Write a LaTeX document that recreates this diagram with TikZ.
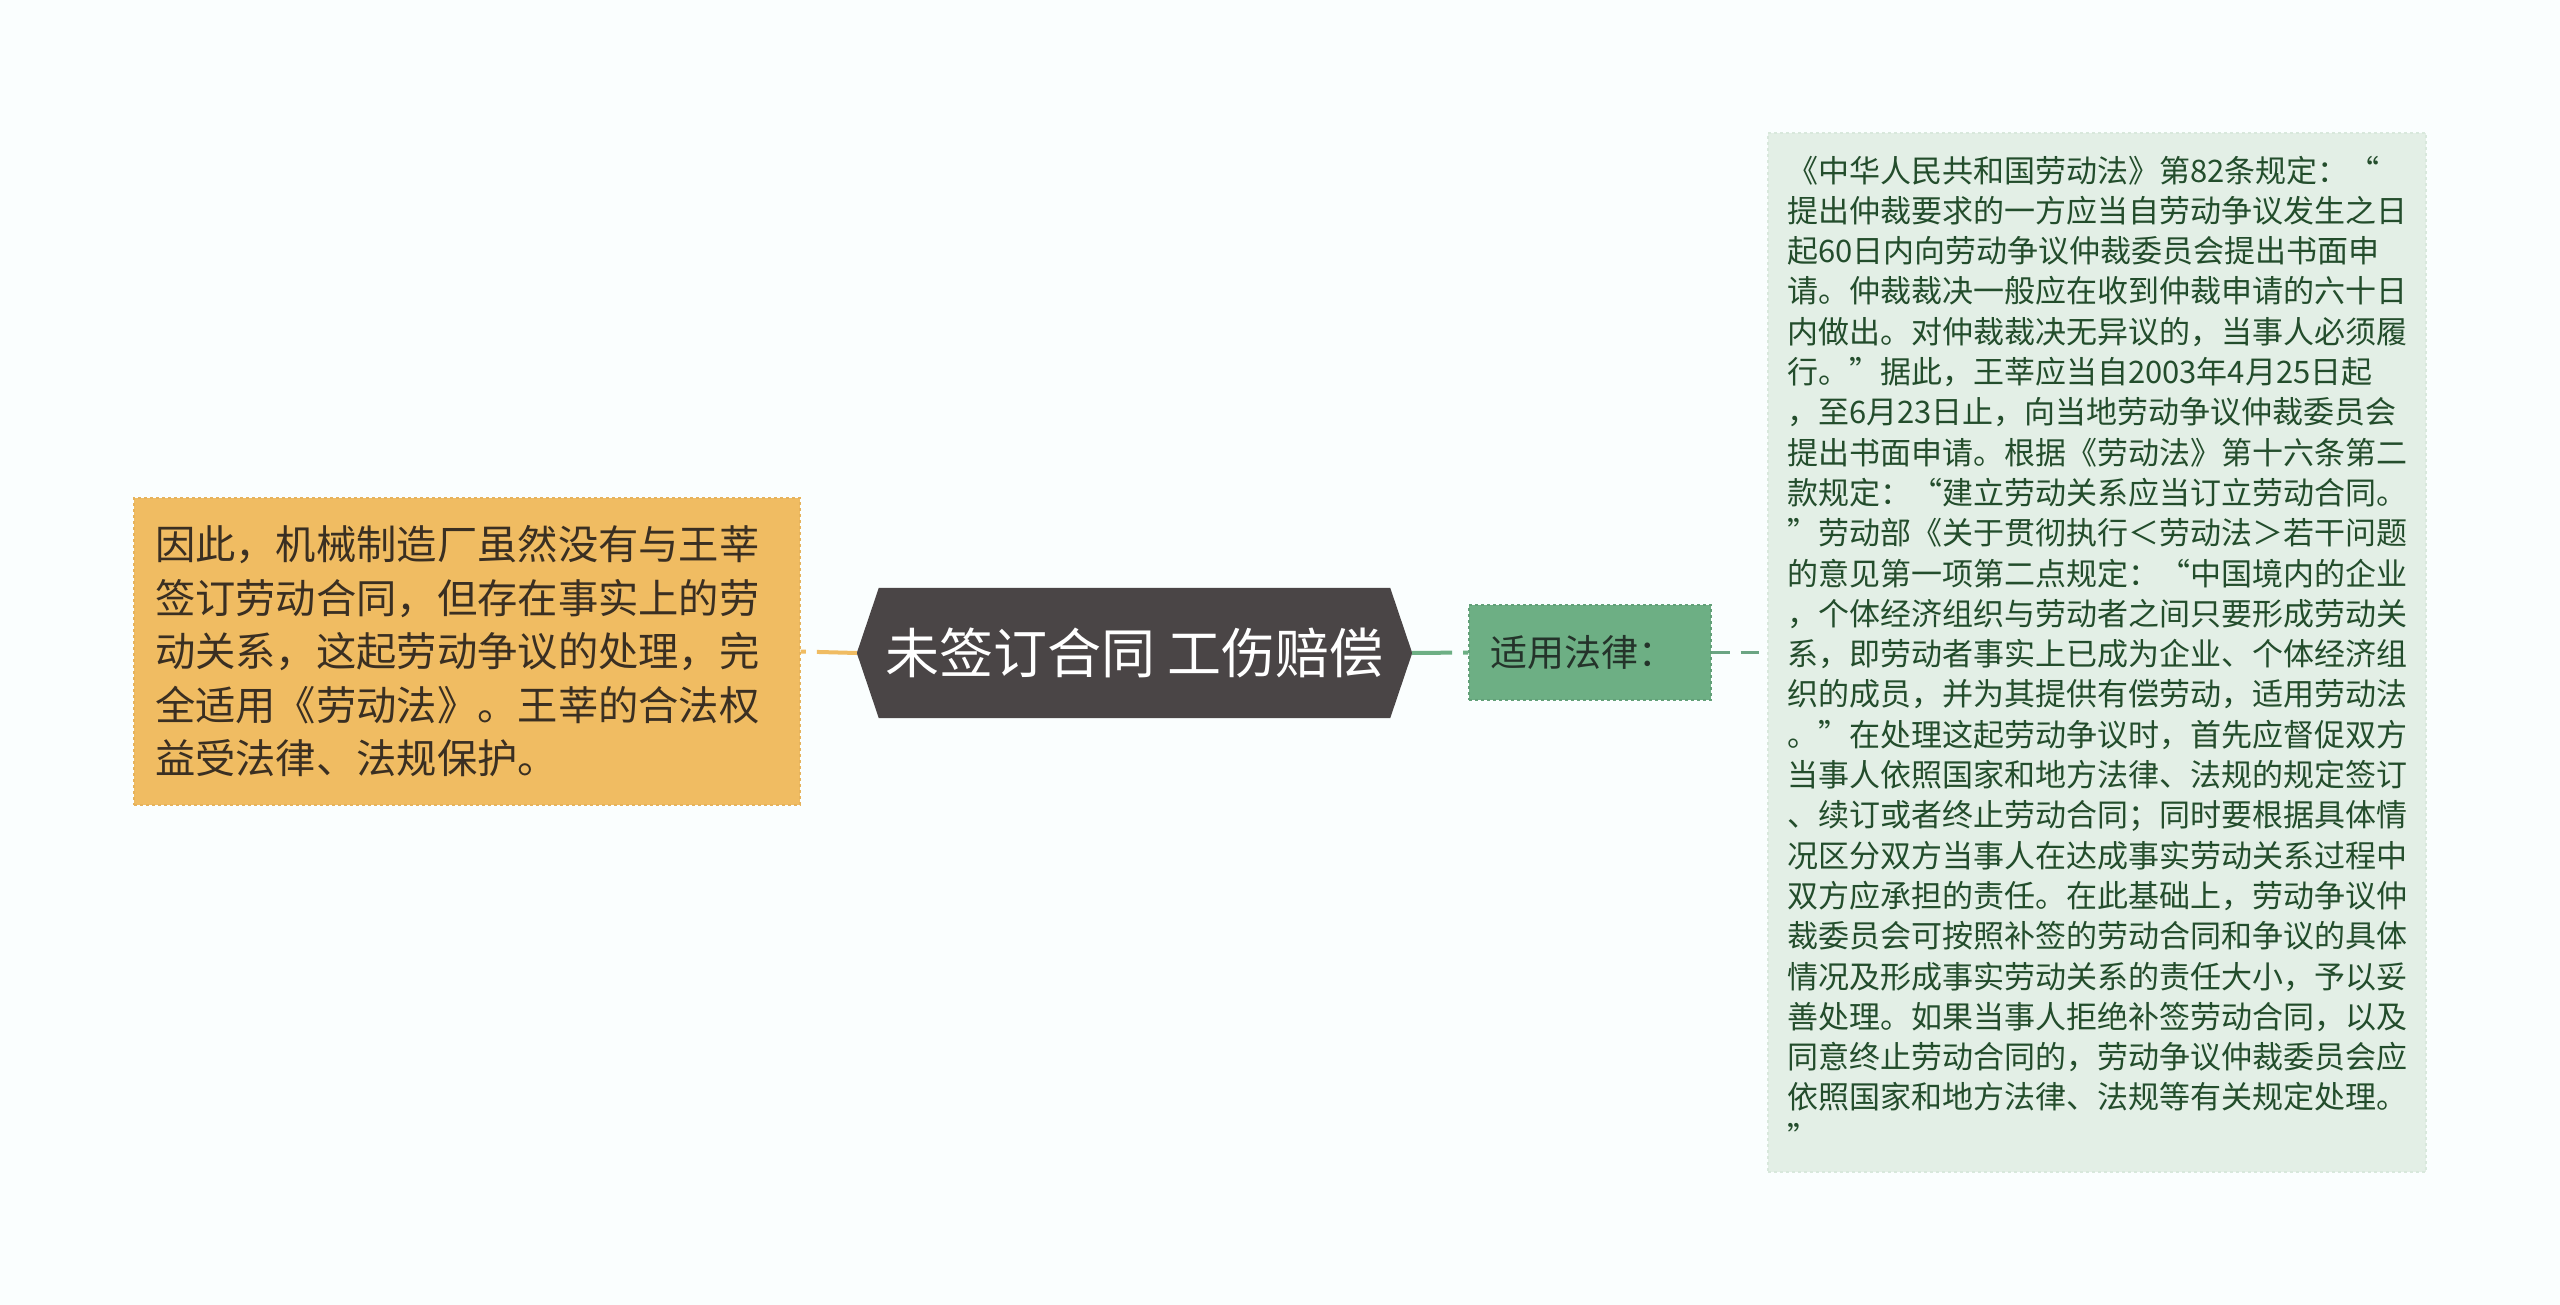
\documentclass[tikz,border=0pt]{standalone}
\usepackage{fontspec}
\setmainfont{Noto Sans CJK SC}
\usetikzlibrary{backgrounds}
\definecolor{bgc}{HTML}{FAFEFE}
\definecolor{hexc}{HTML}{4A4546}
\definecolor{orfill}{HTML}{F0BC62}
\definecolor{orline}{HTML}{E6B35C}
\definecolor{gfill}{HTML}{6DAF84}
\definecolor{gline}{HTML}{62A078}
\definecolor{lgfill}{HTML}{E3EFE6}
\definecolor{lgline}{HTML}{D8E8DC}
\definecolor{ltext}{HTML}{3A2F22}
\definecolor{gtext}{HTML}{24332A}
\definecolor{rtext}{HTML}{234D2C}
\definecolor{conn}{HTML}{6BA583}
\begin{document}
\begin{tikzpicture}[x=1pt,y=-1pt,
  hub/.style={minimum width=555pt,minimum height=130pt,inner sep=0pt,text=white,
    font={\fontsize{54pt}{60pt}\selectfont}},
  lbox/.style={fill=orfill,draw=orline,dashed,line width=1.2pt,minimum width=666pt,minimum height=307pt,
    text width=624pt,inner xsep=21pt,align=left,text=ltext,
    font={\fontsize{40.3pt}{53.5pt}\selectfont}},
  gbox/.style={fill=gfill,draw=gline,dashed,line width=1.2pt,minimum width=242pt,minimum height=95pt,
    text width=200pt,inner xsep=21pt,align=left,text=gtext,
    font={\fontsize{37pt}{40pt}\selectfont}},
  rbox/.style={fill=lgfill,draw=lgline,dashed,line width=1.2pt,minimum width=658pt,minimum height=1039pt,
    text width=620pt,inner xsep=19pt,align=left,text=rtext,
    font={\fontsize{31pt}{40.3pt}\selectfont}},
  orconn/.style={draw=orfill,line width=4pt,dash pattern=on 40pt off 11pt},
  gconn/.style={draw=gfill,line width=4pt,dash pattern=on 40pt off 11pt},
  tconn/.style={draw=conn,line width=3pt,dash pattern=on 18pt off 11pt}
]
\begin{scope}[on background layer]
\fill[bgc] (0,0) rectangle (2560,1305);
\end{scope}
\useasboundingbox (0,0) rectangle (2560,1305);

\node[hub] (c) at (1134.5,653) {未签订合同 工伤赔偿};
\begin{scope}[on background layer]
\fill[hexc] (c.west) -- ([xshift=22pt]c.north west) -- ([xshift=-22pt]c.north east) -- (c.east)
  -- ([xshift=-22pt]c.south east) -- ([xshift=22pt]c.south west) -- cycle;
\end{scope}

\node[lbox] (l) at (467,651.5) {因此，机械制造厂虽然没有与王莘\\签订劳动合同，但存在事实上的劳\\动关系，这起劳动争议的处理，完\\全适用《劳动法》。王莘的合法权\\益受法律、法规保护。};

\node[gbox] (g) at (1590,652.5) {适用法律：};

\node[rbox] (r) at (2097,652.5) {《中华人民共和国劳动法》第82条规定：“\\
提出仲裁要求的一方应当自劳动争议发生之日\\
起60日内向劳动争议仲裁委员会提出书面申\\
请。仲裁裁决一般应在收到仲裁申请的六十日\\
内做出。对仲裁裁决无异议的，当事人必须履\\
行。”据此，王莘应当自2003年4月25日起\\
，至6月23日止，向当地劳动争议仲裁委员会\\
提出书面申请。根据《劳动法》第十六条第二\\
款规定：“建立劳动关系应当订立劳动合同。\\
”劳动部《关于贯彻执行＜劳动法＞若干问题\\
的意见第一项第二点规定：“中国境内的企业\\
，个体经济组织与劳动者之间只要形成劳动关\\
系，即劳动者事实上已成为企业、个体经济组\\
织的成员，并为其提供有偿劳动，适用劳动法\\
。”在处理这起劳动争议时，首先应督促双方\\
当事人依照国家和地方法律、法规的规定签订\\
、续订或者终止劳动合同；同时要根据具体情\\
况区分双方当事人在达成事实劳动关系过程中\\
双方应承担的责任。在此基础上，劳动争议仲\\
裁委员会可按照补签的劳动合同和争议的具体\\
情况及形成事实劳动关系的责任大小，予以妥\\
善处理。如果当事人拒绝补签劳动合同，以及\\
同意终止劳动合同的，劳动争议仲裁委员会应\\
依照国家和地方法律、法规等有关规定处理。\\
”};

\draw[orconn] (c.west) -- (l.east);
\draw[gconn] (c.east) -- (g.west);
\draw[tconn] (g.east) -- (r.west);
\end{tikzpicture}
\end{document}
